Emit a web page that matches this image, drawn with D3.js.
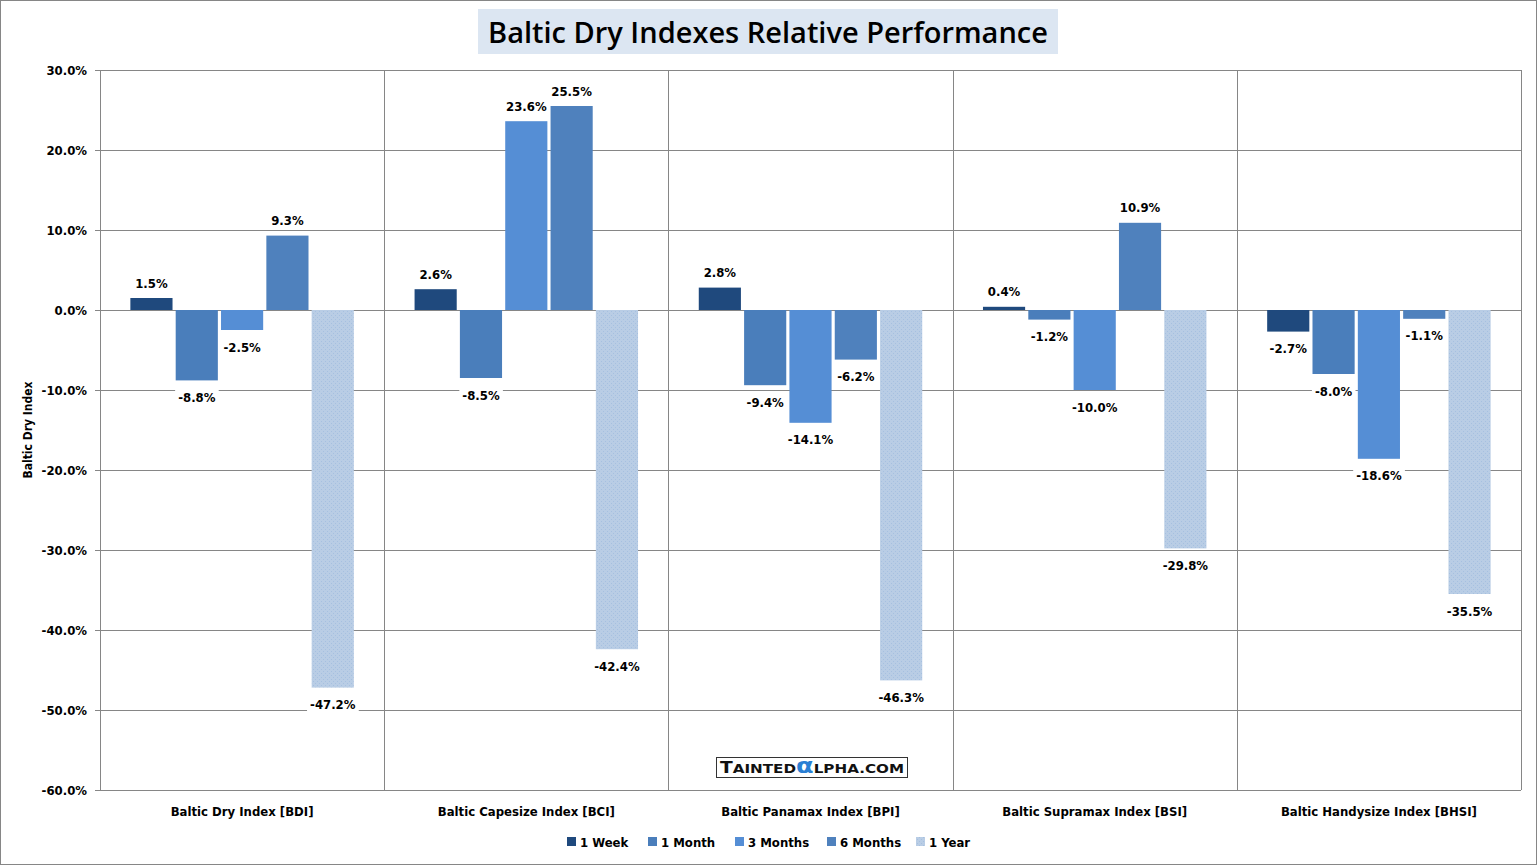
<!DOCTYPE html>
<html>
<head>
<meta charset="utf-8">
<script src="https://cdn.jsdelivr.net/npm/d3@7"></script>
<style>
  body { margin: 0; background: #fff; }
  svg { display: block; }
  text { font-family: Tahoma, "DejaVu Sans Condensed", "DejaVu Sans", sans-serif; }
</style>
</head>
<body>
<script>
const width = 1537;
const height = 865;
const margin = { top: 70, right: 16, bottom: 75, left: 100 };

const categories = ['Baltic Dry Index [BDI]', 'Baltic Capesize Index [BCI]', 'Baltic Panamax Index [BPI]', 'Baltic Supramax Index [BSI]', 'Baltic Handysize Index [BHSI]'];
const periods = ['1 Week', '1 Month', '3 Months', '6 Months', '1 Year'];
const colors = ['#1f497d', '#4a7ebb', '#558ed5', '#4f81bd', '#b9cde5'];

// one array per period, values in %
const week = [1.5, 2.6, 2.8, 0.4, -2.7];
const month = [-8.8, -8.5, -9.4, -1.2, -8.0];
const months3 = [-2.5, 23.6, -14.1, -10.0, -18.6];
const months6 = [9.3, 25.5, -6.2, 10.9, -1.1];
const year = [-47.2, -42.4, -46.3, -29.8, -35.5];
const series = [week, month, months3, months6, year];

const yTicks = [30, 20, 10, 0, -10, -20, -30, -40, -50, -60];

const pct = d => d.toFixed(1) + '%';

const svg = d3.select('body').append('svg')
  .attr('width', width)
  .attr('height', height);

// dotted fill for 1 Year
const defs = svg.append('defs');
const pat = defs.append('pattern')
  .attr('id', 'dots')
  .attr('width', 4)
  .attr('height', 4)
  .attr('patternUnits', 'userSpaceOnUse');
pat.append('rect').attr('width', 4).attr('height', 4).attr('fill', colors[4]);
pat.append('rect').attr('x', 1).attr('y', 1).attr('width', 1).attr('height', 1).attr('fill', '#a6c0e0');
pat.append('rect').attr('x', 3).attr('y', 3).attr('width', 1).attr('height', 1).attr('fill', '#a6c0e0');

svg.append('rect')
  .attr('x', 0.5).attr('y', 0.5)
  .attr('width', width - 1).attr('height', height - 1)
  .attr('fill', '#fff')
  .attr('stroke', '#868686');

const x0 = d3.scaleBand()
  .domain(categories)
  .range([margin.left, width - margin.right]);

const x1 = d3.scaleBand()
  .domain(periods)
  .range([0, x0.bandwidth()])
  .paddingInner(0.07)
  .paddingOuter(0.67);

const y = d3.scaleLinear()
  .domain([-60, 30])
  .range([height - margin.bottom, margin.top]);

// title
svg.append('rect')
  .attr('x', 478).attr('y', 9)
  .attr('width', 580).attr('height', 45)
  .attr('fill', '#dce6f2');
svg.append('text')
  .attr('x', 768).attr('y', 43)
  .attr('text-anchor', 'middle')
  .style('font-family', '"Open Sans", "Noto Sans", sans-serif')
  .attr('font-size', 29)
  .attr('font-weight', 600)
  .attr('fill', '#000')
  .text('Baltic Dry Indexes Relative Performance');

// grid
const grid = svg.append('g').attr('stroke', '#868686').attr('stroke-width', 1);
grid.selectAll('line.h')
  .data(yTicks)
  .join('line')
  .attr('class', 'h')
  .attr('x1', margin.left - 5)
  .attr('x2', width - margin.right)
  .attr('y1', d => Math.round(y(d)) + 0.5)
  .attr('y2', d => Math.round(y(d)) + 0.5);

grid.selectAll('line.v')
  .data(categories.concat(['end']))
  .join('line')
  .attr('class', 'v')
  .attr('x1', (d, i) => Math.round(margin.left + i * x0.step()) + 0.5)
  .attr('x2', (d, i) => Math.round(margin.left + i * x0.step()) + 0.5)
  .attr('y1', y(30))
  .attr('y2', y(-60));

// y labels
svg.append('g')
  .selectAll('text')
  .data(yTicks)
  .join('text')
  .attr('x', margin.left - 13)
  .attr('y', d => y(d) + 5)
  .attr('text-anchor', 'end')
  .attr('font-size', 13)
  .attr('font-weight', 'bold')
  .text(pct);

svg.append('text')
  .attr('transform', `translate(32,${y(-15)}) rotate(-90)`)
  .attr('text-anchor', 'middle')
  .attr('font-size', 12)
  .attr('font-weight', 'bold')
  .text('Baltic Dry  Index');

// category labels
svg.append('g')
  .selectAll('text')
  .data(categories)
  .join('text')
  .attr('x', d => x0(d) + x0.bandwidth() / 2)
  .attr('y', height - margin.bottom + 26)
  .attr('text-anchor', 'middle')
  .attr('font-size', 13)
  .attr('font-weight', 'bold')
  .text(d => d);

// bars
const rows = [];
categories.forEach((c, ci) => {
  periods.forEach((p, pi) => {
    rows.push({ cat: c, period: p, pi, value: series[pi][ci] });
  });
});

svg.append('g')
  .selectAll('rect')
  .data(rows)
  .join('rect')
  .attr('x', d => x0(d.cat) + x1(d.period))
  .attr('width', x1.bandwidth())
  .attr('y', d => y(Math.max(0, d.value)))
  .attr('height', d => Math.abs(y(d.value) - y(0)))
  .attr('fill', d => d.pi === 4 ? 'url(#dots)' : colors[d.pi]);

// value labels with white knockout
const labels = svg.append('g')
  .selectAll('g')
  .data(rows)
  .join('g')
  .attr('transform', d => {
    const cx = x0(d.cat) + x1(d.period) + x1.bandwidth() / 2;
    const cy = d.value >= 0 ? y(d.value) - 15 : y(d.value) + 17;
    return `translate(${cx},${cy})`;
  });

labels.append('text')
  .attr('text-anchor', 'middle')
  .attr('dy', '0.35em')
  .attr('font-size', 13)
  .attr('font-weight', 'bold')
  .text(d => pct(d.value))
  .each(function () {
    const b = this.getBBox();
    d3.select(this.parentNode).insert('rect', 'text')
      .attr('x', b.x - 3).attr('y', b.y)
      .attr('width', b.width + 6).attr('height', b.height)
      .attr('fill', '#fff');
  });

// legend
const legend = svg.append('g')
  .attr('transform', `translate(567,${height - 23})`);
const legendX = [0, 81, 168, 260, 349];
const items = legend.selectAll('g')
  .data(periods)
  .join('g')
  .attr('transform', (d, i) => `translate(${legendX[i]},0)`);
items.append('rect')
  .attr('x', 0).attr('y', -5)
  .attr('width', 9).attr('height', 9)
  .attr('fill', (d, i) => i === 4 ? 'url(#dots)' : colors[i]);
items.append('text')
  .attr('x', 13).attr('y', 5)
  .attr('font-size', 13)
  .attr('font-weight', 'bold')
  .text(d => d);

// watermark
const wm = svg.append('g').attr('transform', 'translate(716,757)');
wm.append('rect')
  .attr('x', 0.5).attr('y', 0.5)
  .attr('width', 191).attr('height', 20)
  .attr('fill', '#fff')
  .attr('stroke', '#333');
const wt = wm.append('text')
  .attr('x', 96).attr('y', 16)
  .attr('text-anchor', 'middle')
  .attr('textLength', 184)
  .attr('lengthAdjust', 'spacingAndGlyphs')
  .style('font-family', '"DejaVu Sans", sans-serif')
  .attr('font-size', 13)
  .attr('font-weight', 600)
  .attr('fill', '#111');
wt.append('tspan').attr('font-size', 16).text('T');
wt.append('tspan').text('AINTED');
wt.append('tspan').attr('font-size', 22).attr('fill', '#2a7fd4').attr('font-weight', 'bold').text('α');
wt.append('tspan').text('LPHA.COM');
</script>
</body>
</html>
